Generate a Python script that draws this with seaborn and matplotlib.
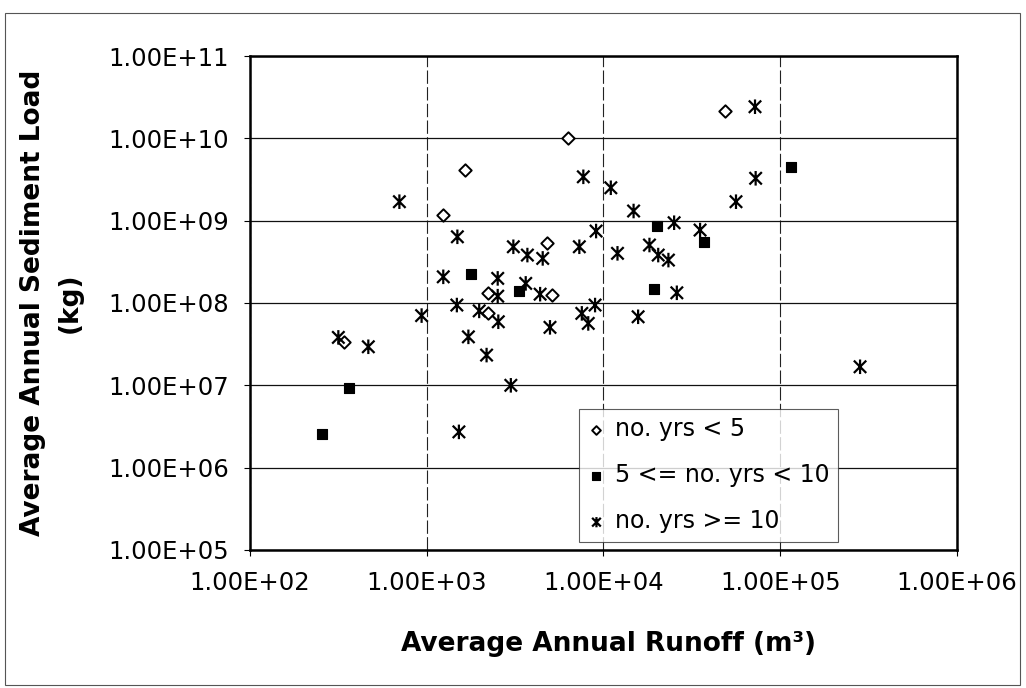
import numpy as np
import pandas as pd
import seaborn as sns
import matplotlib.pyplot as plt
from matplotlib.path import Path
from matplotlib.patches import Rectangle

# 各站点：年均径流量 (m3) 与年均输沙量 (kg)，按记录年数分组
lt5_runoff = [6.3e3, 1.64e3, 1.23e3, 4.8e3, 2.23e3, 5.1e3, 2.23e3, 340, 4.87e4]
lt5_load = [1.0e10, 4.1e9, 1.17e9, 5.3e8, 1.33e8, 1.25e8, 7.5e7, 3.4e7, 2.15e10]

mid_runoff = [1.78e3, 3.34e3, 365, 256, 1.15e5, 2.0e4, 3.71e4, 1.93e4]
mid_load = [2.24e8, 1.40e8, 9.2e6, 2.53e6, 4.52e9, 8.6e8, 5.55e8, 1.46e8]

ge10_runoff = [7.69e3, 1.10e4, 700, 1.49e3, 3.09e3, 3.71e3, 4.53e3, 7.3e3, 9.08e3, 1.2e4,
               1.24e3, 2.52e3, 3.63e3, 2.52e3, 4.38e3, 8.96e3, 7.54e3, 8.2e3, 4.98e3, 1.48e3,
               1.98e3, 2.54e3, 935, 316, 467, 1.72e3, 2.18e3, 2.99e3, 1.52e3, 7.2e4,
               7.26e4, 5.62e4, 1.48e4, 2.51e4, 3.52e4, 1.82e4, 2.04e4, 2.33e4, 2.6e4, 1.57e4,
               2.83e5]
ge10_load = [3.41e9, 2.51e9, 1.70e9, 6.37e8, 4.82e8, 3.82e8, 3.48e8, 4.82e8, 7.48e8, 4.01e8,
             2.08e8, 1.99e8, 1.73e8, 1.21e8, 1.28e8, 9.44e7, 7.48e7, 5.65e7, 5.06e7, 9.44e7,
             8.02e7, 5.92e7, 7.03e7, 3.82e7, 2.94e7, 3.88e7, 2.33e7, 1.0e7, 2.72e6, 2.42e10,
             3.27e9, 1.70e9, 1.31e9, 9.44e8, 7.69e8, 5.06e8, 3.82e8, 3.32e8, 1.33e8, 6.8e7,
             1.68e7]

group_labels = ['no. yrs < 5', '5 <= no. yrs < 10', 'no. yrs >= 10']

x_ticks = [1e2, 1e3, 1e4, 1e5, 1e6]
x_tick_labels = ['1.00E+02', '1.00E+03', '1.00E+04', '1.00E+05', '1.00E+06']
y_ticks = [1e5, 1e6, 1e7, 1e8, 1e9, 1e10, 1e11]
y_tick_labels = ['1.00E+05', '1.00E+06', '1.00E+07', '1.00E+08',
                 '1.00E+09', '1.00E+10', '1.00E+11']

sns.set_style('white')
plt.rcParams['font.family'] = ['DejaVu Sans']
plt.rcParams['text.color'] = 'black'
plt.rcParams['axes.labelcolor'] = 'black'

# Excel 风格的星号标记：X 加一条竖线
star = Path([(0, -1), (0, 1), (-0.85, -0.85), (0.85, 0.85), (-0.85, 0.85), (0.85, -0.85)],
            [Path.MOVETO, Path.LINETO, Path.MOVETO, Path.LINETO, Path.MOVETO, Path.LINETO])

fig = plt.figure(figsize=(10.26, 6.88), dpi=100)
ax = fig.add_axes([0.2437, 0.2006, 0.689, 0.718])

sns.scatterplot(x=lt5_runoff, y=lt5_load, marker='D', s=40, color='black',
                facecolor='white', edgecolor='black', linewidth=1.4,
                label=group_labels[0], ax=ax, zorder=3)
sns.scatterplot(x=mid_runoff, y=mid_load, marker='s', s=60, color='black',
                edgecolor='black', linewidth=0.8,
                label=group_labels[1], ax=ax, zorder=3)
sns.scatterplot(x=ge10_runoff, y=ge10_load, marker=star, s=110, color='black',
                facecolor='none', edgecolor='black', linewidth=1.6,
                label=group_labels[2], ax=ax, zorder=3)

ax.set_xscale('log')
ax.set_yscale('log')
ax.set_xlim(1e2, 1e6)
ax.set_ylim(1e5, 1e11)
ax.set_xticks(x_ticks, x_tick_labels)
ax.set_yticks(y_ticks, y_tick_labels)
ax.minorticks_off()

ax.set_axisbelow(True)
ax.xaxis.grid(True, color='#222222', linewidth=0.8, linestyle=(0, (12, 3)))
ax.yaxis.grid(True, color='#111111', linewidth=0.9)
for sp in ax.spines.values():
    sp.set_visible(True)
    sp.set_color('black')
    sp.set_linewidth(1.8)

ax.tick_params(axis='both', direction='out', length=4, width=0.8, color='black',
               labelsize=17.5, labelcolor='black')
ax.tick_params(axis='x', pad=11, bottom=True)
ax.tick_params(axis='y', pad=11, left=True)

ax.set_xlabel('Average Annual Runoff (m³)', fontsize=19, fontweight='bold')
ax.xaxis.set_label_coords(0.507, -0.164)
ax.set_ylabel('Average Annual Sediment Load\n(kg)', fontsize=19, fontweight='bold',
              linespacing=1.5)
ax.yaxis.set_label_coords(-0.237, 0.5)

leg = ax.legend(loc='upper left', bbox_to_anchor=(0.465, 0.285), borderaxespad=0,
                fontsize=17, frameon=True, fancybox=False, markerscale=0.7,
                handlelength=0.8, handletextpad=0.4, borderpad=0.35, labelspacing=0.93)
leg.get_frame().set_edgecolor('#333333')
leg.get_frame().set_linewidth(0.8)
for t in leg.get_texts():
    t.set_color('black')

# 外框
fig.add_artist(Rectangle((5 / 1026, 3 / 688), 1015 / 1026, 672 / 688,
                         transform=fig.transFigure, fill=False,
                         edgecolor='#555555', linewidth=0.8))

fig.savefig('out.png', dpi=100)
